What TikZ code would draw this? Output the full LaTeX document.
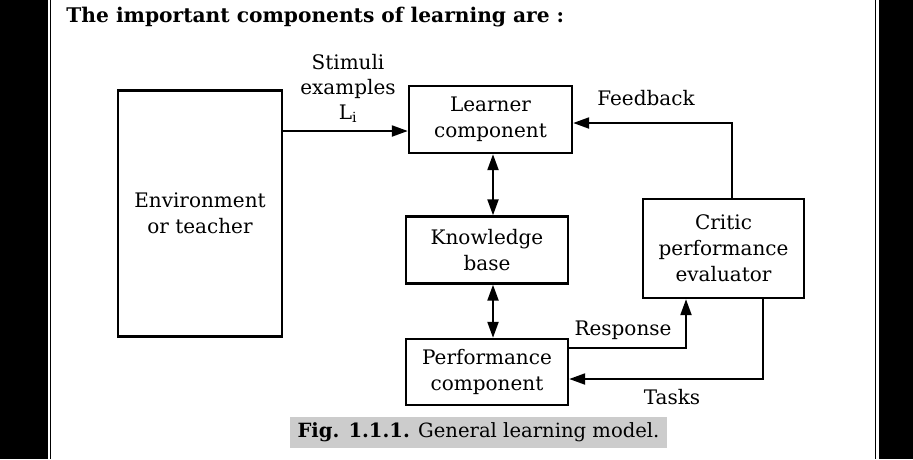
\documentclass[tikz,border=0pt]{standalone}
\usepackage{fontspec}
\setmainfont{DejaVu Serif}
\usepackage{tikz}
\usetikzlibrary{arrows.meta}

\begin{document}
\begin{tikzpicture}[x=1pt,y=-1pt,
    -{Triangle[length=16pt,width=11pt]},line width=2.2pt,
    main box/.style={rectangle,draw,line width=2.4pt,align=center,inner sep=0pt,
        font=\fontsize{20}{26}\selectfont},
    lbl/.style={align=center,font=\fontsize{20}{25}\selectfont}]

        \useasboundingbox (0,0) rectangle (913,459);
        % page edges
        \fill[-] (0,0) rectangle (48,459);
        \fill[-] (879,0) rectangle (913,459);
        \draw[-,line width=1.3pt] (50.5,0) -- (50.5,459);
        \draw[-,line width=1.3pt] (875.5,0) -- (875.5,459);

        \node[anchor=base west,font=\fontsize{20.2}{24}\selectfont\bfseries] (title) at (62,22)
            {The important components of learning are :};

        \node[main box,minimum width=164pt,minimum height=246pt] (env)     at (200,213.5) {Environment\\or teacher};
        \node[main box,minimum width=163pt,minimum height=67pt]  (learner) at (490.5,119.5) {Learner\\component};
        \node[main box,minimum width=162pt,minimum height=67pt]  (kb)      at (487,250) {Knowledge\\base};
        \node[main box,minimum width=162pt,minimum height=66pt]  (perf)    at (487,372) {Performance\\component};
        \node[main box,minimum width=161pt,minimum height=99pt]  (critic)  at (723.5,248.5) {Critic\\performance\\evaluator};

        \node[lbl] (stimuli)  at (348,88)  {Stimuli\\examples\\L\textsubscript{i}};
        \node[lbl] (feedback) at (646,98)  {Feedback};
        \node[lbl] (response) at (623,330) {Response};
        \node[lbl] (tasks)    at (672,397) {Tasks};

        \coordinate (lin) at ([yshift=-11.5pt]learner.west);
        \draw (env.east |- lin) -- (lin);
        \draw ([xshift=8.5pt]critic.north) |- ([yshift=-3.5pt]learner.east);
        \draw[{Triangle[length=16pt,width=11pt]}-{Triangle[length=16pt,width=11pt]}]
            ([xshift=2.5pt]learner.south) -- ([xshift=2.5pt]learner.south |- kb.north);
        \draw[{Triangle[length=16pt,width=11pt]}-{Triangle[length=16pt,width=11pt]}]
            ([xshift=6pt]kb.south) -- ([xshift=6pt]kb.south |- perf.north);
        \draw ([yshift=24pt]perf.east) -| ([xshift=-37.5pt]critic.south);
        \draw ([xshift=39.5pt]critic.south) |- ([yshift=-7pt]perf.east);

        \node[fill=black!20,minimum width=377pt,minimum height=31pt,inner sep=0pt,
            font=\fontsize{19.6}{24}\selectfont] (caption) at (478.5,432.5)
            {\textbf{Fig. 1.1.1.} General learning model.};
\end{tikzpicture}
\end{document}
